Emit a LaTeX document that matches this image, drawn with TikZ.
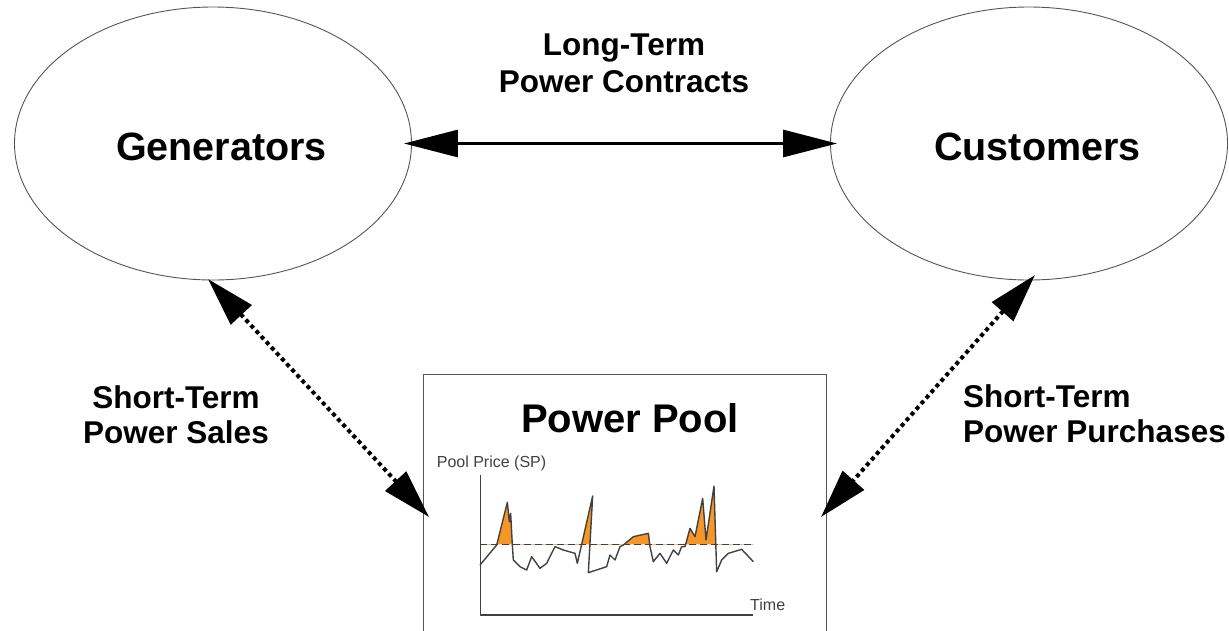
\documentclass[tikz,border=0pt]{standalone}
\usepackage{fontspec}
\setmainfont{Liberation Sans}
\usetikzlibrary{arrows.meta,shapes.geometric}
\definecolor{edgegray}{RGB}{85,85,85}
\definecolor{chartgray}{RGB}{65,65,65}
\definecolor{orangefill}{RGB}{245,150,40}
\tikzset{
  blob/.style={ellipse, draw=edgegray, line width=0.9pt, minimum width=397pt, minimum height=273pt, inner sep=0pt},
  blobtext/.style={font=\bfseries\fontsize{39.5}{42}\selectfont, inner sep=0pt, anchor=base},
  lbl/.style={font=\bfseries\fontsize{31.5}{35}\selectfont, inner sep=0pt},
  bigarrow/.style={line width=3pt, {Triangle[length=54pt,width=27pt]}-{Triangle[length=54pt,width=27pt]}},
  dotarrow/.style={line width=4pt, line cap=butt, dash pattern=on 4pt off 3.5pt,
    {Triangle[length=49pt,width=28pt]}-{Triangle[length=49pt,width=28pt]}},
  chartline/.style={draw=chartgray, line width=1.4pt, line join=round},
  small/.style={font=\fontsize{16}{18}\selectfont, text=chartgray, inner sep=0pt}
}
\begin{document}
\begin{tikzpicture}[x=1pt,y=-1pt]
\useasboundingbox (0,0) rectangle (1229,630);
% ellipses
\node[blob] (gen) at (213,143.5) {};
\node[blob] (cus) at (1029,143.5) {};
\node[blobtext] (gentext) at (221.5,160) {Generators};
\node[blobtext] (custext) at (1037.5,160) {Customers};
% pool box
\node[draw=edgegray, line width=1.2pt, anchor=north west, minimum width=403pt, minimum height=270pt, inner sep=0pt] (pool) at (423,374) {};
\node[font=\bfseries\fontsize{40}{42}\selectfont, anchor=base, inner sep=0pt] (pooltitle) at (630,432) {Power Pool};
% labels
\node[lbl, align=center, font=\bfseries\fontsize{31.5}{36.5}\selectfont] (ltc) at (624,63.5) {Long-Term\\Power Contracts};
\node[lbl, align=center] (lsales) at (176,414.5) {Short-Term\\Power Sales};
\node[lbl, align=left, anchor=west] (lpurch) at (963,414) {Short-Term\\Power Purchases};
% connectors
\coordinate (gs) at (208,279);
\coordinate (pl) at (429,517);
\coordinate (cs) at (1035,275);
\coordinate (pr) at (821,517);
\draw[bigarrow, shorten <=-8pt, shorten >=-7pt] (gen) -- (cus);
\draw[dotarrow] (gs) -- (pl);
\draw[dotarrow] (cs) -- (pr);
% chart
\begin{scope}[shift={(420,370)}, x=0.33333pt, y=-0.33333pt]
  \begin{scope}
    \clip (150,300) rectangle (1050,523);
    \fill[orangefill] (180,523) -- (180,585) -- (230,525) -- (262,397) -- (268,455) -- (272,430) -- (277,525) -- (280,570)
      -- (300,590) -- (320,600) -- (335,560) -- (360,595) -- (380,580) -- (405,530) -- (430,540) -- (465,550)
      -- (472,580) -- (518,378) -- (505,608) -- (560,590) -- (570,555) -- (585,570) -- (600,530) -- (610,525)
      -- (640,500) -- (685,490) -- (690,530) -- (700,575) -- (720,550) -- (740,580) -- (760,540) -- (775,555)
      -- (785,530) -- (795,530) -- (810,475) -- (825,500) -- (848,385) -- (858,510) -- (882,348) -- (890,605)
      -- (905,570) -- (925,550) -- (965,538) -- (1000,575) -- (1000,523) -- cycle;
  \end{scope}
  \draw[draw=chartgray, line width=1.2pt, dash pattern=on 7pt off 4pt] (180,523) -- (1005,523);
  \draw[chartline] (180,585) -- (230,525) -- (262,397) -- (268,455) -- (272,430) -- (277,525) -- (280,570)
      -- (300,590) -- (320,600) -- (335,560) -- (360,595) -- (380,580) -- (405,530) -- (430,540) -- (465,550)
      -- (472,580) -- (518,378) -- (505,608) -- (560,590) -- (570,555) -- (585,570) -- (600,530) -- (610,525)
      -- (640,500) -- (685,490) -- (690,530) -- (700,575) -- (720,550) -- (740,580) -- (760,540) -- (775,555)
      -- (785,530) -- (795,530) -- (810,475) -- (825,500) -- (848,385) -- (858,510) -- (882,348) -- (890,605)
      -- (905,570) -- (925,550) -- (965,538) -- (1000,575);
  \draw[chartline, line width=1.4pt] (182,315) -- (182,735) -- (1000,735);
  \node[small, anchor=base west] (ylab) at (50,292) {Pool Price (SP)};
  \node[small, anchor=base west] (xlab) at (990,720) {Time};
\end{scope}
\end{tikzpicture}
\end{document}
